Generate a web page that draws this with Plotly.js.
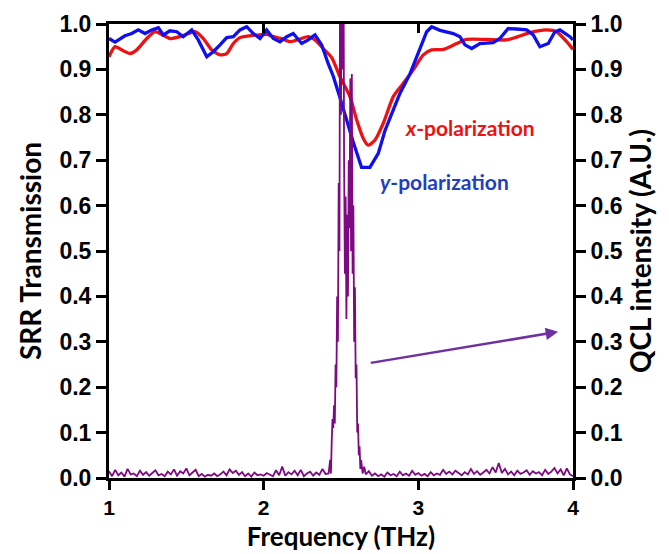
<!DOCTYPE html>
<html><head><meta charset="utf-8">
<script src="https://cdn.plot.ly/plotly-3.0.1.min.js"></script>
<style>body{margin:0;background:#fff}#plot{width:669px;height:554px}</style>
</head><body><div id="plot"></div>
<script>
// y-polarization (blue)
const yPolFreq = [1.0,1.039,1.103,1.147,1.189,1.233,1.276,1.319,1.351,1.394,1.438,1.480,1.535,1.577,1.632,1.674,1.718,1.761,1.804,1.847,1.890,1.933,1.976,2.019,2.062,2.105,2.149,2.191,2.246,2.288,2.332,2.375,2.418,2.450,2.493,2.537,2.579,2.633,2.687,2.741,2.784,2.838,2.881,2.946,3.010,3.054,3.086,3.140,3.226,3.269,3.301,3.345,3.398,3.484,3.527,3.581,3.635,3.700,3.743,3.786,3.840,3.883,3.915,3.980,4.0];
const yPolVal  = [0.968,0.960,0.974,0.979,0.987,0.979,0.987,0.992,0.976,0.985,0.983,0.972,0.987,0.965,0.928,0.939,0.954,0.970,0.972,0.987,0.994,0.979,0.968,0.987,0.968,0.961,0.972,0.979,0.957,0.965,0.976,0.954,0.912,0.885,0.838,0.785,0.740,0.684,0.684,0.715,0.765,0.811,0.847,0.890,0.946,0.983,0.994,0.986,0.979,0.972,0.954,0.946,0.957,0.959,0.968,0.990,0.989,0.987,0.976,0.950,0.957,0.983,0.987,0.972,0.965];
// x-polarization (red)
const xPolFreq = [1.0,1.039,1.092,1.136,1.179,1.244,1.297,1.341,1.394,1.459,1.513,1.556,1.610,1.664,1.718,1.761,1.804,1.847,1.911,1.976,2.019,2.062,2.116,2.170,2.235,2.288,2.332,2.385,2.440,2.493,2.558,2.601,2.644,2.676,2.719,2.773,2.838,2.902,2.967,3.032,3.086,3.161,3.248,3.312,3.441,3.571,3.635,3.721,3.829,3.894,3.959,4.0];
const xPolVal  = [0.928,0.950,0.941,0.935,0.943,0.968,0.983,0.977,0.968,0.972,0.979,0.983,0.968,0.943,0.932,0.935,0.957,0.970,0.974,0.976,0.977,0.972,0.968,0.961,0.967,0.972,0.965,0.946,0.926,0.884,0.840,0.789,0.748,0.733,0.744,0.781,0.840,0.869,0.899,0.932,0.943,0.944,0.957,0.966,0.966,0.965,0.971,0.981,0.987,0.983,0.961,0.944];
// QCL spectrum (purple, right axis)
const qclFreq = [1.00,1.02,1.04,1.06,1.08,1.10,1.12,1.14,1.16,1.18,1.20,1.22,1.24,1.26,1.28,1.30,1.32,1.34,1.36,1.38,1.40,1.42,1.44,1.46,1.48,1.50,1.52,1.54,1.56,1.58,1.60,1.62,1.64,1.66,1.68,1.70,1.72,1.74,1.76,1.78,1.80,1.82,1.84,1.86,1.88,1.90,1.92,1.94,1.96,1.98,2.00,2.02,2.04,2.06,2.08,2.10,2.12,2.14,2.16,2.18,2.20,2.22,2.24,2.26,2.28,2.30,2.32,2.34,2.36,2.38,2.40,
2.42,2.43,2.435,2.44,2.445,2.45,2.455,2.46,2.465,2.47,2.475,2.48,2.485,2.49,2.495,2.50,2.505,2.51,2.515,2.52,2.525,2.53,2.535,2.54,2.545,2.55,2.555,2.56,2.565,2.57,2.575,2.58,2.585,2.59,2.595,2.60,2.605,2.61,2.615,2.62,2.625,2.63,2.64,2.65,2.66,
2.68,2.70,2.72,2.74,2.76,2.78,2.80,2.82,2.84,2.86,2.88,2.90,2.92,2.94,2.96,2.98,3.00,3.02,3.04,3.06,3.08,3.10,3.12,3.14,3.16,3.18,3.20,3.22,3.24,3.26,3.28,3.30,3.32,3.34,3.36,3.38,3.40,3.42,3.44,3.46,3.48,3.50,3.52,3.54,3.56,3.58,3.60,3.62,3.64,3.66,3.68,3.70,3.72,3.74,3.76,3.78,3.80,3.82,3.84,3.86,3.88,3.90,3.92,3.94,3.96,3.98,4.00];
const qclVal = [0.015,0.004,0.018,0.006,0.012,0.003,0.020,0.008,0.010,0.004,0.016,0.007,0.013,0.005,0.011,0.017,0.006,0.009,0.004,0.014,0.008,0.019,0.005,0.015,0.010,0.021,0.006,0.012,0.018,0.004,0.009,0.003,0.007,0.005,0.010,0.004,0.008,0.014,0.006,0.019,0.011,0.016,0.007,0.013,0.004,0.010,0.003,0.012,0.006,0.008,0.005,0.011,0.007,0.004,0.017,0.006,0.025,0.005,0.013,0.008,0.016,0.006,0.018,0.004,0.010,0.014,0.005,0.012,0.007,0.020,0.009,
0.010,0.040,0.010,0.08,0.13,0.11,0.16,0.12,0.25,0.20,0.40,0.30,0.65,0.50,1.30,0.80,1.30,0.90,1.30,0.70,0.45,0.62,0.35,0.58,0.40,0.70,0.55,0.88,0.50,0.89,0.45,0.60,0.30,0.42,0.22,0.25,0.10,0.12,0.05,0.07,0.02,0.04,0.010,0.025,0.008,
0.015,0.005,0.010,0.004,0.008,0.003,0.012,0.006,0.009,0.004,0.014,0.006,0.010,0.005,0.016,0.007,0.011,0.005,0.009,0.004,0.013,0.006,0.010,0.007,0.018,0.009,0.014,0.008,0.016,0.010,0.006,0.013,0.008,0.020,0.009,0.015,0.007,0.012,0.018,0.010,0.024,0.012,0.033,0.011,0.020,0.008,0.014,0.006,0.016,0.009,0.012,0.017,0.007,0.015,0.010,0.013,0.006,0.018,0.009,0.014,0.022,0.010,0.019,0.006,0.021,0.008,0.004];

const xTicks = [1,2,3,4];
const xTickText = ['1','2','3','4'];
const yTicks = [0,0.1,0.2,0.3,0.4,0.5,0.6,0.7,0.8,0.9,1.0];
const yTickText = ['0.0','0.1','0.2','0.3','0.4','0.5','0.6','0.7','0.8','0.9','1.0'];
const bold = s => '<b>' + s + '</b>';

const tickFont = {family:'Liberation Sans', size:23, color:'#000', weight:700};
const xTickFont = {family:'Liberation Sans', size:21, color:'#000', weight:700};
const titleFont = {family:'Lato, sans-serif', size:28, color:'#000'};

const traces = [
  {x:xPolFreq, y:xPolVal, type:'scatter', mode:'lines', line:{color:'#ee1111', width:3.3, shape:'spline', smoothing:0.6}, xaxis:'x', yaxis:'y', hoverinfo:'skip'},
  {x:yPolFreq, y:yPolVal, type:'scatter', mode:'lines', line:{color:'#1010ee', width:3.3}, xaxis:'x', yaxis:'y', hoverinfo:'skip'},
  {x:qclFreq, y:qclVal, type:'scatter', mode:'lines', line:{color:'#7d0a80', width:1.8}, xaxis:'x', yaxis:'y2', hoverinfo:'skip'},
  {x:[1,4], y:[0,0], type:'scatter', mode:'lines', line:{width:0}, xaxis:'x2', yaxis:'y', hoverinfo:'skip', showlegend:false}
];

const layout = {
  width:669, height:554,
  margin:{l:109, r:96, t:24, b:76},
  paper_bgcolor:'#fff', plot_bgcolor:'#fff',
  showlegend:false,
  font:{family:'Liberation Sans'},
  xaxis:{range:[1,4], tickvals:xTicks, ticktext:xTickText.map(bold), showgrid:false, zeroline:false,
         showline:true, linecolor:'#000', linewidth:3, ticks:'outside', ticklen:9, tickwidth:3, tickcolor:'#000',
         tickfont:xTickFont, title:{text:'<b>Frequency (THz)</b>', font:{family:'Lato, sans-serif', size:26, color:'#000'}, standoff:10}},
  xaxis2:{range:[1,4], overlaying:'x', side:'top', tickvals:xTicks, showticklabels:false, showgrid:false, zeroline:false,
         showline:true, linecolor:'#000', linewidth:3, ticks:'inside', ticklen:9, tickwidth:3, tickcolor:'#000'},
  yaxis:{range:[0,1], tickvals:yTicks, ticktext:yTickText.map(bold), showgrid:false, zeroline:false,
         showline:true, linecolor:'#000', linewidth:3, ticks:'outside', ticklen:10, tickwidth:3, tickcolor:'#000',
         tickfont:tickFont, title:{text:'<b>SRR Transmission</b>', font:titleFont, standoff:10}},
  yaxis2:{range:[0,1], overlaying:'y', side:'right', tickvals:yTicks, ticktext:yTickText.map(bold), showgrid:false, zeroline:false,
         showline:true, linecolor:'#000', linewidth:3, ticks:'outside', ticklen:10, tickwidth:3, tickcolor:'#000',
         tickfont:tickFont, title:{text:'<b>QCL intensity (A.U.)</b>', font:titleFont, standoff:10}},
  annotations:[
    {x:2.90, y:0.773, xref:'x', yref:'y', xanchor:'left', yanchor:'middle', showarrow:false,
     text:'<b><i>x</i>-polarization</b>', font:{family:'Lato, sans-serif', size:21, color:'#ee1111'}},
    {x:2.739, y:0.652, xref:'x', yref:'y', xanchor:'left', yanchor:'middle', showarrow:false,
     text:'<b><i>y</i>-polarization</b>', font:{family:'Lato, sans-serif', size:21, color:'#1f3fc0'}},
    {x:3.904, y:0.322, ax:2.683, ay:0.253, xref:'x', yref:'y2', axref:'x', ayref:'y2', showarrow:true, text:'',
     arrowhead:2, arrowsize:1, arrowwidth:2.5, arrowcolor:'#7030a0', standoff:0}
  ]
};
Plotly.newPlot('plot', traces, layout, {staticPlot:true, displayModeBar:false});
</script></body></html>
